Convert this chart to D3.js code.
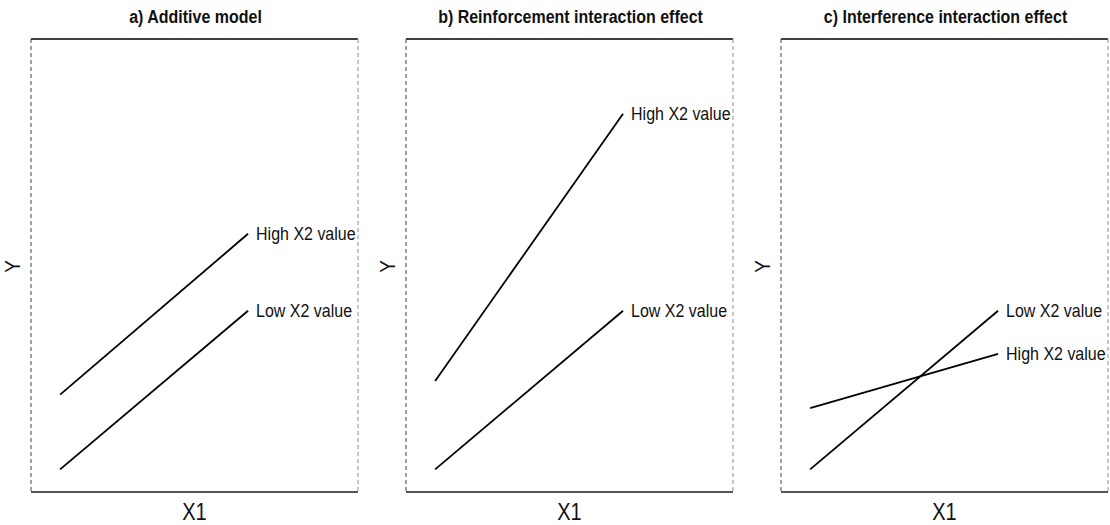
<!DOCTYPE html>
<html>
<head>
<meta charset="utf-8">
<script src="https://cdn.jsdelivr.net/npm/d3@7"></script>
<style>
  html, body { margin: 0; padding: 0; background: #fff; }
  svg { display: block; font-family: "Liberation Sans", Arial, sans-serif; }
</style>
</head>
<body>
<svg id="chart" width="1110" height="525"></svg>
<script>
// ---- data ----
const panelTitles = ["a) Additive model", "b) Reinforcement interaction effect", "c) Interference interaction effect"];
const xValues = [0, 10];
const lowValuesA = [5, 40];
const highValuesA = [21.5, 57];
const lowValuesB = [5, 40];
const highValuesB = [24.5, 83.5];
const lowValuesC = [5, 40];
const highValuesC = [18.5, 30.5];
const seriesLabels = ["High X2 value", "Low X2 value"];
const xAxisLabel = "X1";
const yAxisLabel = "Y";

const panels = [
  { title: panelTitles[0], series: [ { name: seriesLabels[0], values: highValuesA }, { name: seriesLabels[1], values: lowValuesA } ] },
  { title: panelTitles[1], series: [ { name: seriesLabels[0], values: highValuesB }, { name: seriesLabels[1], values: lowValuesB } ] },
  { title: panelTitles[2], series: [ { name: seriesLabels[0], values: highValuesC }, { name: seriesLabels[1], values: lowValuesC } ] }
];

// ---- layout ----
const svg = d3.select("#chart");
const panelLefts = [31, 406, 781];
const panelW = 327;
const plotTop = 39, plotBottom = 492;
const stretch = 1.18;

const x = d3.scaleLinear().domain([-1.55, 15.85]).range([0, panelW]);
const y = d3.scaleLinear().domain([0, 100]).range([plotBottom, plotTop]);

panels.forEach((p, i) => {
  const g = svg.append("g").attr("transform", `translate(${panelLefts[i]},0)`);

  // frame
  g.append("line").attr("x1", 0).attr("x2", panelW).attr("y1", plotTop).attr("y2", plotTop)
    .attr("stroke", "#000").attr("stroke-width", 1.5);
  g.append("line").attr("x1", 0).attr("x2", panelW).attr("y1", plotBottom).attr("y2", plotBottom)
    .attr("stroke", "#555").attr("stroke-width", 2);
  [0, panelW].forEach((xx, k) => {
    g.append("line").attr("x1", xx).attr("x2", xx).attr("y1", plotTop).attr("y2", plotBottom)
      .attr("stroke", k === 0 ? "#555" : "#999").attr("stroke-width", 1.1)
      .attr("stroke-dasharray", "4,3");
  });

  // title
  g.append("text").attr("transform", `translate(${panelW / 2 + 1},23) scale(1,${stretch})`)
    .attr("text-anchor", "middle").attr("font-weight", "bold").attr("font-size", 16)
    .attr("fill", "#111").text(p.title);

  // axis labels
  g.append("text").attr("transform", `translate(${panelW / 2},520) scale(1,${stretch})`)
    .attr("text-anchor", "middle").attr("font-size", 20).attr("fill", "#111").text(xAxisLabel);
  g.append("text").attr("transform", `translate(-11,${(plotTop + plotBottom) / 2 + 1}) rotate(-90) scale(1,${stretch})`)
    .attr("text-anchor", "middle").attr("font-size", 19).attr("fill", "#111").text(yAxisLabel);

  const line = d3.line().x((d, j) => x(xValues[j])).y(d => y(d));

  p.series.forEach(s => {
    g.append("path").datum(s.values).attr("d", line)
      .attr("fill", "none").attr("stroke", "#000").attr("stroke-width", 1.8);
    g.append("text")
      .attr("transform", `translate(${x(xValues[1]) + 8},${y(s.values[1]) + 6}) scale(1,${stretch})`)
      .attr("font-size", 16).attr("fill", "#111").text(s.name);
  });
});
</script>
</body>
</html>
